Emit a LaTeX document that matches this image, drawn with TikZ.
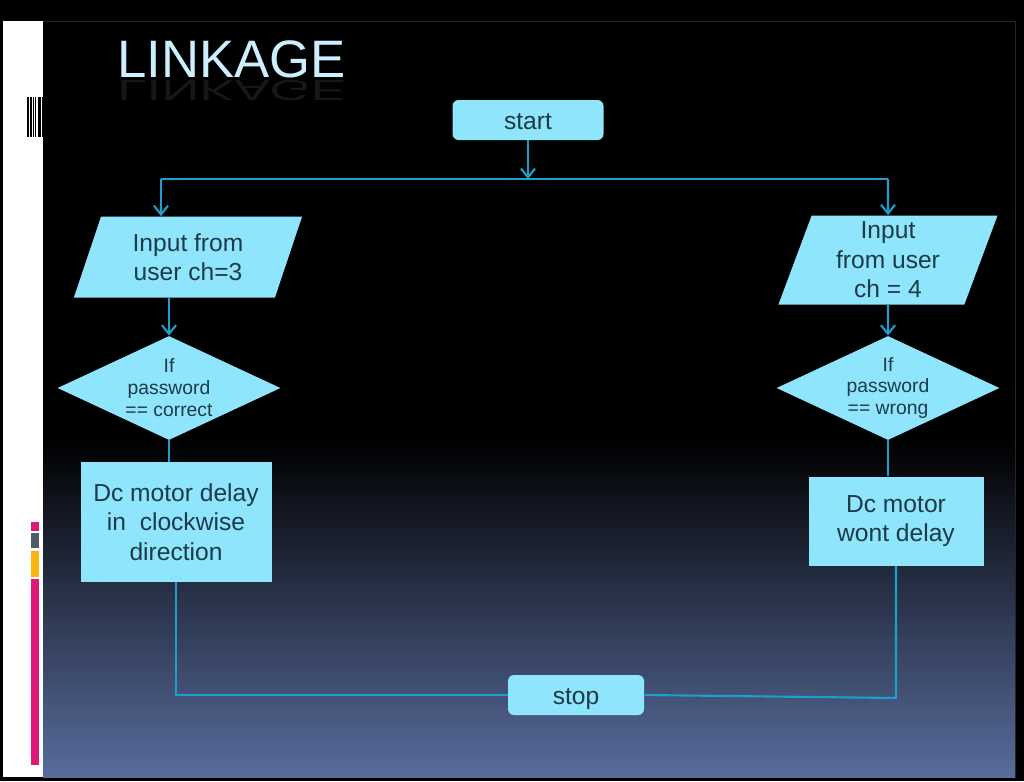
\documentclass[tikz,border=0pt]{standalone}
\usepackage{fontspec}
\setmainfont{Liberation Sans}
\usetikzlibrary{shapes.geometric,arrows.meta,calc}
\definecolor{boxfill}{RGB}{143,230,252}
\definecolor{boxtext}{RGB}{28,58,74}
\definecolor{flow}{RGB}{30,158,206}
\definecolor{titlecol}{RGB}{205,238,252}
\definecolor{slidebot}{RGB}{88,108,156}
\definecolor{barpink}{RGB}{224,24,122}
\definecolor{bargray}{RGB}{80,92,104}
\definecolor{barorange}{RGB}{250,180,16}
\newdimen\px \px=0.02cm
\tikzset{
  termbox/.style={rectangle,fill=boxfill,text=boxtext,rounded corners=6\px,minimum width=151\px,minimum height=40\px,text height=11pt,text depth=0pt,font=\fontsize{14}{17}\selectfont},
  iobox/.style={trapezium,trapezium stretches=true,fill=boxfill,text=boxtext,align=center,inner sep=0pt,font=\fontsize{14}{16.8}\selectfont},
  testbox/.style={diamond,aspect=2.1,fill=boxfill,text=boxtext,align=center,inner sep=0pt,minimum width=223\px,minimum height=104\px,font=\fontsize{11}{12.5}\selectfont},
  actbox/.style={rectangle,fill=boxfill,text=boxtext,align=center,font=\fontsize{14}{16.8}\selectfont},
  flowline/.style={draw=flow,line width=1.2pt},
  flowarrow/.style={flowline,-{Straight Barb[length=5pt,width=8pt]}}
}
\begin{document}
\begin{tikzpicture}[x=0.02cm,y=-0.02cm]
                \useasboundingbox (0,0) rectangle (1024,781);
                % slide background
                \fill[black] (0,0) rectangle (1024,781);
                \fill[white] (3,21) rectangle (43,777);
                \shade[top color=black,bottom color=slidebot] (43,440) rectangle (1015,777);
                \draw[black!85!white,line width=0.5pt] (43,21) -- (1015,21) -- (1015,777);

                % barcode and colour bars on the white strip
                \foreach \x/\w in {27/1.5,30/2,33/1.2,35.2/1.2,37.5/2,40.2/1.2,42/1.5}
                    \fill[black] (\x,97) rectangle ++(\w,40);
                \fill[barpink] (31,522) rectangle (39,531);
                \fill[bargray] (31,533) rectangle (39,548);
                \fill[barorange] (31,551) rectangle (39,577);
                \fill[barpink] (31,579) rectangle (39,765);

                % title with its reflection
                \node[anchor=base west,inner sep=0pt,text=titlecol,font=\fontsize{30}{30}\selectfont] (title) at (117,77) {LINKAGE};
                \node[anchor=base west,inner sep=0pt,text=titlecol,text opacity=0.1,transform shape,yscale=-0.55,font=\fontsize{30}{30}\selectfont] (titlerefl) at (117,80) {LINKAGE};

                % flowchart
                \node[termbox] (start) at (528,120) {start};
                \node[iobox,trapezium left angle=70,trapezium right angle=110,minimum width=230\px,minimum height=81\px] (inL) at (188,257) {Input from\\user ch=3};
                \node[iobox,trapezium left angle=73.5,trapezium right angle=106.5,minimum width=221\px,minimum height=89\px] (inR) at (888,260) {Input\\from user\\ch = 4};
                \node[testbox] (decL) at (169,388) {If\\password\\== correct};
                \node[testbox] (decR) at (888,388) {If\\password\\== wrong};
                \node[actbox,minimum width=191\px,minimum height=120\px] (actL) at (176,522) {Dc motor delay\\in\ \ clockwise\\direction};
                \node[actbox,minimum width=175\px,minimum height=89\px] (actR) at (896,521) {Dc motor\\wont delay};
                \node[termbox,minimum width=136\px] (stop) at (576,695) {stop};

                \coordinate (busL) at (161,179);
                \coordinate (busR) at (888,179);
                \coordinate (turnR) at (896,698);

                \draw[flowarrow] (start.south) -- (start.south |- busL);
                \draw[flowline] (busL) -- (busR);
                \draw[flowarrow] (busL) -- (busL |- inL.north);
                \draw[flowarrow] (busR) -- (inR.north);
                \draw[flowarrow] (decL.north |- inL.south) -- (decL.north);
                \draw[flowarrow] (inR.south) -- (decR.north);
                \draw[flowline] (decL.south) -- (decL.south |- actL.north);
                \draw[flowline] (decR.south) -- (decR.south |- actR.north);
                \draw[flowline] (actL.south) |- (stop.west);
                \draw[flowline] (stop.east) -- (turnR) -- (actR.south);
            \end{tikzpicture}
\end{document}
